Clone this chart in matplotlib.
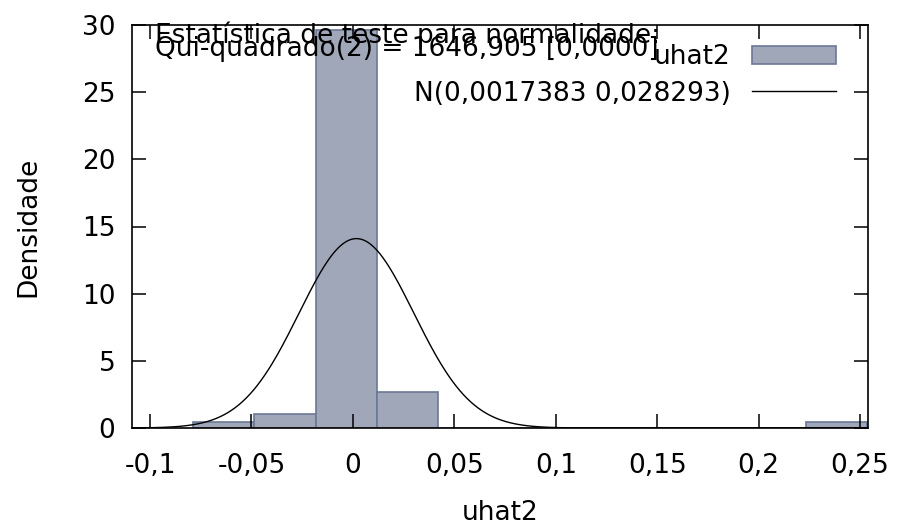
import numpy as np
import matplotlib
matplotlib.use("Agg")
import matplotlib.pyplot as plt

# histogram of uhat2 (bin centres and densities)
bin_width = 0.0302
bin_centers = [-0.0637, -0.0335, -0.0033, 0.0269, 0.0571, 0.0873,
               0.1175, 0.1477, 0.1779, 0.2081, 0.2383]
densities = [0.45, 1.04, 29.6, 2.68, 0, 0, 0, 0, 0, 0, 0.45]

# fitted normal from the legend
mu = 0.0017383
sigma = 0.028293

xticks = [-0.1, -0.05, 0, 0.05, 0.1, 0.15, 0.2, 0.25]
xticklabels = ['-0,1', '-0,05', '0', '0,05', '0,1', '0,15', '0,2', '0,25']
yticks = [0, 5, 10, 15, 20, 25, 30]

plt.rcParams['font.family'] = ['DejaVu Sans']
fs = 19

fig = plt.figure(figsize=(9, 5.32), dpi=100)
ax = fig.add_axes([132/900, 1 - 428/532, (868 - 132)/900, (428 - 25)/532])

bars = ax.bar(bin_centers, densities, width=bin_width, color='#a0a7b9',
              edgecolor='#6b7896', linewidth=1.2, label='uhat2')

xs = np.linspace(-0.1089, 0.2539, 600)
pdf = np.exp(-0.5 * ((xs - mu) / sigma) ** 2) / (sigma * np.sqrt(2 * np.pi))
line, = ax.plot(xs, pdf, color='black', lw=1.0,
                label='N(0,0017383 0,028293)')

ax.set_xlim(-0.1089, 0.2539)
ax.set_ylim(0, 30)
ax.set_xticks(xticks)
ax.set_xticklabels(xticklabels)
ax.set_yticks(yticks)
ax.tick_params(direction='in', length=10, width=1.1, labelsize=fs,
               top=True, right=True, pad=12)
ax.tick_params(axis='x', pad=18)
for s in ax.spines.values():
    s.set_linewidth(1.2)

ax.set_xlabel('uhat2', fontsize=fs, labelpad=15)
ax.set_ylabel('Densidade', fontsize=fs, labelpad=29)

fig.text(155/900, 1 - 43/532, 'Estatística de teste para normalidade:',
         fontsize=fs, ha='left', va='baseline')
fig.text(155/900, 1 - 56/532, 'Qui-quadrado(2) = 1646,905 [0,0000]',
         fontsize=fs, ha='left', va='baseline')

ax.legend(handles=[bars, line], loc='upper right', frameon=False,
          markerfirst=False, fontsize=fs, handlelength=3.2,
          handleheight=0.7, handletextpad=0.8, labelspacing=0.4,
          borderpad=0, borderaxespad=0,
          bbox_to_anchor=(836/900, 1 - 44/532),
          bbox_transform=fig.transFigure)

fig.savefig('out.png', dpi=100)
